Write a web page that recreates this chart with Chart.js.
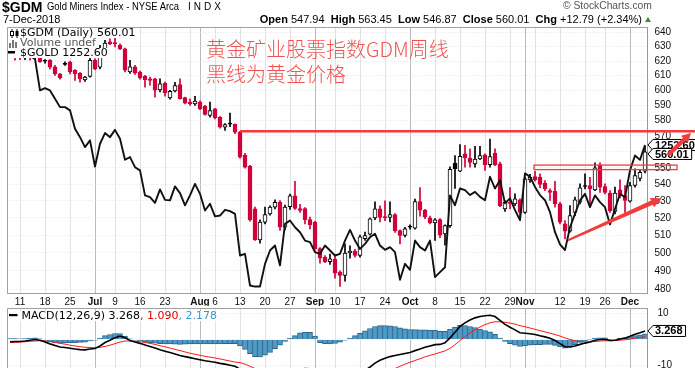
<!DOCTYPE html>
<html>
<head>
<meta charset="utf-8">
<script src="https://cdn.jsdelivr.net/npm/chart.js@4/dist/chart.umd.min.js"></script>
<style>
  html, body { margin: 0; padding: 0; background: #fff; }
  body { width: 695px; height: 368px; overflow: hidden; position: relative; font-family: 'Liberation Sans', Arial, sans-serif; color: #000; }
  canvas { position: absolute; left: 0; }
  #main { top: 0; }
  #macd { top: 306px; }
  .abs { position: absolute; white-space: nowrap; }
  .leg { position: absolute; left: 7.5px; height: 10.1px; line-height: 10.1px; font-size: 11px; font-family: 'DejaVu Sans', sans-serif; background: #fff; white-space: nowrap; padding-left: 12.5px; padding-right: 3px; }
  .cn { position: absolute; white-space: nowrap; font: 300 20px/20px 'Noto Sans CJK SC', sans-serif; color: #f25252; }
</style>
</head>
<body>
<canvas id="main" width="695" height="306"></canvas>
<canvas id="macd" width="695" height="100"></canvas>

<div class="abs" style="left:2px;top:0px;font:bold 14px/14px 'Liberation Sans',Arial;">$GDM</div>
<div class="abs" style="left:47px;top:0.9px;font:11.5px/11.5px 'Liberation Sans',Arial;transform:scaleX(0.82);transform-origin:0 0;">Gold Miners Index - NYSE Arca</div>
<div class="abs" style="left:188px;top:2px;font:10px/10px 'Liberation Sans',Arial;letter-spacing:3px;">INDX</div>
<div class="abs" style="left:3px;top:13.7px;font:11px/11px 'Liberation Sans',Arial;">7-Dec-2018</div>
<div class="abs" style="right:53px;top:13.7px;font:11px/11px 'Liberation Sans',Arial;"><b>Open</b> 547.94&nbsp; <b>High</b> 563.45&nbsp; <b>Low</b> 546.87&nbsp; <b>Close</b> 560.01&nbsp; <b>Chg</b> +12.79 (+2.34%)</div>
<div class="abs" style="left:645px;top:17px;width:0;height:0;border-left:3.5px solid transparent;border-right:3.5px solid transparent;border-bottom:5px solid #2f8f3a;"></div>
<div class="abs" style="left:563px;top:1px;font:10.3px/10px 'Liberation Sans',Arial;color:#555;">&copy; StockCharts.com</div>

<div class="leg" style="top:27.65px;">$GDM (Daily) 560.01
  <svg class="abs" style="left:2.5px;top:1px" width="9" height="9"><line x1="2" y1="0" x2="2" y2="9" stroke="#000"/><rect x="0.5" y="2.5" width="3" height="4" fill="#fff" stroke="#000"/><line x1="7" y1="0" x2="7" y2="9" stroke="#000"/><rect x="5.5" y="2" width="3" height="5" fill="#000"/></svg>
</div>
<div class="leg" style="top:37.75px;color:#555;">Volume undef
  <svg class="abs" style="left:1.5px;top:1px" width="9" height="9"><rect x="0" y="4" width="2" height="5" fill="#777"/><rect x="3" y="1" width="2" height="8" fill="#777"/><rect x="6" y="3" width="2" height="6" fill="#777"/></svg>
</div>
<div class="leg" style="top:47.85px;">$GOLD 1252.60
  <svg class="abs" style="left:0.8px;top:3.5px" width="8" height="3"><rect x="0" y="0" width="7" height="2.5" fill="#000"/></svg>
</div>

<div class="cn" style="left:206px;top:38.6px;">黄金矿业股票指数GDM周线</div>
<div class="cn" style="left:206px;top:63.8px;">黑线为黄金价格</div>

<div class="abs" style="left:7.5px;top:310.6px;height:10.1px;line-height:10.1px;font-size:11px;font-family:'DejaVu Sans',sans-serif;background:#fff;padding-left:14px;padding-right:3px;">MACD(12,26,9) 3.268<span style="color:#e00000">, 1.090</span><span style="color:#3a96c8">, 2.178</span>
  <svg class="abs" style="left:1px;top:3px" width="9" height="3"><rect x="0" y="0" width="8.5" height="2.2" fill="#000"/></svg>
</div>

<script>
// Trading days shown on the chart (7 Jun 2018 - 7 Dec 2018)
const dates = [
  '6/7','6/8','6/11','6/12','6/13','6/14','6/15','6/18','6/19','6/20','6/21','6/22','6/25','6/26','6/27','6/28','6/29',
  '7/2','7/3','7/5','7/6','7/9','7/10','7/11','7/12','7/13','7/16','7/17','7/18','7/19','7/20','7/23','7/24','7/25','7/26','7/27','7/30','7/31',
  '8/1','8/2','8/3','8/6','8/7','8/8','8/9','8/10','8/13','8/14','8/15','8/16','8/17','8/20','8/21','8/22','8/23','8/24','8/27','8/28','8/29','8/30','8/31',
  '9/4','9/5','9/6','9/7','9/10','9/11','9/12','9/13','9/14','9/17','9/18','9/19','9/20','9/21','9/24','9/25','9/26','9/27','9/28',
  '10/1','10/2','10/3','10/4','10/5','10/8','10/9','10/10','10/11','10/12','10/15','10/16','10/17','10/18','10/19','10/22','10/23','10/24','10/25','10/26','10/29','10/30','10/31',
  '11/1','11/2','11/5','11/6','11/7','11/8','11/9','11/12','11/13','11/14','11/15','11/16','11/19','11/20','11/21','11/23','11/26','11/27','11/28','11/29','11/30',
  '12/3','12/4','12/6','12/7'
];

// x-axis labels (empty string = grid line without label)
const tickLabels = {
  '6/11': '11', '6/18': '18', '6/25': '25', '7/2': 'Jul', '7/9': '9', '7/16': '16', '7/23': '23', '7/30': '',
  '8/1': 'Aug', '8/6': '6', '8/13': '13', '8/20': '20', '8/27': '27', '9/4': 'Sep', '9/10': '10', '9/17': '17',
  '9/24': '24', '10/1': 'Oct', '10/8': '8', '10/15': '15', '10/22': '22', '10/29': '29', '11/1': 'Nov', '11/5': '',
  '11/12': '12', '11/19': '19', '11/26': '26', '12/3': 'Dec'
};
const monthStarts = ['7/2', '8/1', '9/4', '10/1', '11/1', '12/3'];

// $GDM daily candles
const open = [
  627, 626, 625, 623, 626, 624, 623, 620.2, 620.5, 616,
  611, 618, 619.3, 613.6, 611.6, 607, 609.4, 620.5, 615.7, 627.4,
  633.4, 633, 631, 628.6, 612.4, 616, 612.4, 609.5, 607.7, 607.7,
  600.3, 604.7, 594.8, 599.5, 603.8, 595, 592.1, 590.9, 592.1, 589.2,
  583.3, 587.6, 582.2, 575.6, 577.9, 577.5, 572.4, 557.7, 550.9, 525.3,
  507.3, 517.5, 522.3, 526.3, 529.2, 514.6, 526.5, 533, 525.5, 525.5,
  519, 517.5, 502.4, 497.5, 495, 496.3, 489.3, 487.5, 499.9, 500.8,
  498.5, 508, 510.5, 519.9, 525.3, 520.7, 520.3, 521.9, 512.6, 509.8,
  515, 514, 529.5, 524.5, 520, 517, 519, 510.7, 515.5, 553,
  548, 558.7, 556.1, 552.4, 555.5, 558, 552, 559, 552.4, 525.3,
  529.3, 528.2, 530.6, 523.2, 542.6, 544.6, 544.2, 540.6, 536.1, 535.7,
  528.2, 516.5, 512.3, 523.2, 529.2, 538.9, 539.2, 536.6, 551.5, 538.6,
  534.6, 523.8, 536.6, 533.2, 529.8, 539.2, 543.5, 547.94
];
const high = [
  629, 628, 627, 627, 628, 626, 624, 621, 621, 617,
  611.5, 619.5, 620, 614, 612, 609.5, 624, 621.5, 631, 634.5,
  635.7, 636, 632, 629, 620.5, 617, 613, 610.1, 609, 608,
  607.8, 605.5, 600, 605.4, 607.7, 595.5, 594.3, 595.9, 593, 590,
  592.1, 588, 582.5, 578, 584.8, 577.8, 573, 559, 551.5, 526.3,
  518.8, 526.3, 527, 530.6, 530.2, 527.5, 534, 541.8, 528, 526,
  520.5, 518, 503, 498.5, 499.3, 498, 490, 505, 504, 502,
  510, 511.8, 520, 529.4, 527, 530, 529.4, 522.5, 513, 514.5,
  516, 531, 538, 525, 521, 519.5, 519.5, 516, 550.6, 557.6,
  564.6, 564, 561.8, 563.4, 563.4, 558.7, 568, 561.8, 553.6, 530.2,
  538, 534.2, 531.2, 544.2, 546, 547.9, 546.3, 542.2, 537.2, 541.8,
  529.2, 518.4, 527.2, 532.2, 540.2, 546.3, 544.2, 553.1, 553.1, 540.2,
  536.1, 538.2, 542.6, 539.2, 541.2, 549.4, 549, 563.45
];
const low = [
  623, 620.5, 621, 621, 620.5, 621, 619, 618.5, 614.5, 610,
  607.5, 617, 611, 606.7, 605.5, 606, 608.9, 614, 614.6, 627,
  631.5, 629.8, 628, 612.4, 611.5, 610.8, 607.5, 602, 603.5, 595.4,
  598.8, 596, 594, 598.8, 594, 590.8, 589.9, 589.9, 587, 583.5,
  582.2, 581, 575, 573.6, 576, 571.5, 556, 549.8, 518, 507,
  505.4, 516.5, 521.5, 525.3, 512.7, 513, 525, 525, 523.2, 516.5,
  513.6, 502, 494.2, 494.5, 493.6, 486, 481.5, 484.4, 497, 497.5,
  497.5, 507, 510, 519, 517.6, 518.4, 517.6, 511.5, 505, 509,
  513.5, 513.5, 521, 519.5, 516.5, 507, 508.5, 504.3, 514.5, 537.5,
  547.7, 550.4, 550.4, 550.4, 555, 548.4, 550.4, 551.4, 526.5, 523.8,
  525.3, 527.2, 518.4, 522.6, 541, 541.8, 537.8, 536.1, 530.2, 526.3,
  516.5, 507.9, 511.7, 521.3, 528.2, 537.2, 528.2, 536.1, 535.1, 534.2,
  523.2, 522.3, 531.8, 523.2, 529.2, 538.2, 542, 546.87
];
const close = [
  625, 623, 622.5, 625.5, 623, 622.5, 619.5, 619.8, 615.7, 611,
  608.4, 617.7, 612.4, 611.2, 607.7, 608.9, 620.5, 614.6, 625.1, 632.6,
  632.2, 632, 628.6, 613.6, 616, 611.6, 608.3, 607.1, 606.7, 600,
  604.3, 598.2, 599.2, 603.1, 594.3, 591.4, 590.9, 592.7, 587.6, 583.9,
  586.5, 581.7, 575.6, 577.4, 577.6, 572.4, 556.6, 550.4, 518.8, 507.3,
  517.5, 521.9, 526.3, 529.2, 514.6, 526.3, 533, 525.5, 524.3, 519,
  516.1, 502.4, 497, 495, 496.6, 488.7, 487.5, 499.9, 501, 498.6,
  509, 509.8, 519.4, 525.3, 520.3, 519.9, 521.9, 512.6, 509.8, 513.6,
  514.6, 529.5, 524.5, 520.5, 517, 518.8, 510, 515.5, 549, 549.5,
  557.1, 556.1, 553.4, 555.5, 557.6, 552, 557, 552, 527.2, 529.2,
  528.5, 531.2, 523.2, 543.2, 544.2, 542.6, 539.8, 537.2, 535.1, 528.2,
  517.5, 512.3, 521.3, 530.6, 537.8, 538.6, 537.2, 550, 538.2, 535.1,
  524.2, 534.6, 533.2, 530.2, 539.2, 545.2, 547.22, 560.01
];

// $GOLD overlay (close)
const gold = [
  1303.2, 1302.7, 1302.7, 1302.1, 1302.7, 1301.1, 1283.3, 1284.6, 1283.3, 1278.6,
  1273.9, 1273.9, 1272.1, 1261.7, 1257.0, 1251.4, 1255.2, 1240.5, 1253.3, 1259.3,
  1257.0, 1261.1, 1256.1, 1244.3, 1245.8, 1240.1, 1238.3, 1224.2, 1223.2, 1220.0,
  1227.6, 1221.7, 1221.4, 1229.3, 1225.5, 1218.6, 1224.2, 1230.7, 1225.1, 1215.7,
  1219.5, 1212.4, 1212.9, 1216.1, 1215.4, 1213.8, 1190.4, 1191.3, 1173.5, 1172.9,
  1172.9, 1185.7, 1193.2, 1196.0, 1184.8, 1208.2, 1210.1, 1206.3, 1203.5, 1198.8,
  1197.9, 1192.3, 1191.3, 1196.0, 1193.2, 1190.4, 1191.3, 1198.8, 1204.8, 1198.8,
  1194.1, 1196.9, 1200.7, 1202.6, 1196.0, 1193.6, 1195.1, 1192.3, 1176.7, 1185.7,
  1182.3, 1198.8, 1195.1, 1193.2, 1198.8, 1178.2, 1181.0, 1183.8, 1224.2, 1218.7,
  1228.1, 1227.2, 1224.4, 1226.2, 1223.4, 1221.5, 1234.7, 1228.1, 1232.8, 1219.7,
  1222.5, 1215.9, 1210.3, 1236.6, 1234.7, 1229.0, 1224.4, 1221.5, 1214.8, 1203.5,
  1196.7, 1193.4, 1206.3, 1213.8, 1221.4, 1225.1, 1217.6, 1224.2, 1220.4, 1217.6,
  1207.9, 1216.6, 1225.1, 1223.2, 1238.3, 1246.7, 1244.2, 1252.6
];

// MACD(12,26,9)
const macd = [
  -0.9, -0.8, -0.8, -0.6, -0.3, 0.0, -0.3, -1.0, -1.7, -2.3,
  -2.9, -3.1, -3.4, -3.7, -3.9, -4.0, -3.7, -3.5, -2.5, -1.2,
  -0.3, 0.7, 1.3, 0.7, -0.4, -1.0, -1.5, -2.1, -2.7, -3.3,
  -4.0, -4.5, -5.0, -5.6, -6.2, -6.6, -7.0, -7.4, -7.8, -8.2,
  -8.5, -8.8, -9.2, -9.5, -9.9, -10.3, -11.4, -13.3, -15.8, -17.8,
  -18.8, -18.9, -18.6, -17.5, -16.6, -15.4, -14.1, -12.9, -11.7, -11.2,
  -11.3, -12.7, -15.5, -16.4, -17.0, -17.2, -17.0, -16.5, -15.8, -14.6,
  -13.4, -12.0, -10.6, -9.1, -8.0, -7.2, -6.6, -6.2, -5.8, -5.4,
  -5.0, -4.3, -3.7, -3.0, -2.5, -2.0, -1.9, -1.3, 0.6, 2.8,
  5.0, 6.4, 7.5, 8.3, 8.8, 9.1, 9.3, 8.8, 7.3, 5.8,
  4.7, 3.7, 2.6, 2.4, 2.2, 1.9, 1.4, 1.0, 0.5, -0.4,
  -1.6, -2.8, -2.9, -2.5, -1.9, -1.4, -1.0, -0.3, 0.0, 0.1,
  -0.4, -0.3, 0.2, 0.5, 1.2, 2.0, 2.6, 3.268
];
const signal = [
  -1.2, -1.1, -1.0, -0.9, -0.7, -0.6, -0.5, -0.6, -0.8, -1.1,
  -1.5, -1.8, -2.2, -2.5, -2.8, -3.0, -3.1, -3.2, -3.0, -2.7,
  -2.2, -1.6, -1.0, -0.6, -0.6, -0.7, -0.9, -1.2, -1.5, -1.9,
  -2.4, -2.8, -3.3, -3.8, -4.3, -4.8, -5.3, -5.7, -6.1, -6.5,
  -6.8, -7.1, -7.5, -7.9, -8.3, -8.7, -8.9, -9.5, -10.3, -11.2,
  -12.1, -12.9, -13.6, -14.0, -14.4, -14.6, -14.5, -14.4, -14.2, -14.0,
  -14.0, -14.0, -14.3, -14.8, -15.3, -15.7, -16.0, -16.2, -16.2, -16.1,
  -15.8, -15.3, -14.8, -14.1, -13.3, -12.5, -11.8, -11.2, -10.3, -9.5,
  -8.8, -8.1, -7.4, -6.7, -6.1, -5.6, -5.0, -4.4, -3.4, -2.0,
  -0.4, 1.1, 2.5, 3.7, 4.8, 5.7, 6.4, 6.8, 6.8, 6.6,
  6.3, 5.9, 5.3, 4.9, 4.4, 3.9, 3.4, 2.9, 2.4, 1.9,
  1.3, 0.6, 0.0, -0.5, -0.8, -0.9, -0.9, -0.8, -0.6, -0.5,
  -0.5, -0.4, -0.3, -0.1, 0.1, 0.5, 0.8, 1.09
];
const histogram = [
  0.3, 0.3, 0.2, 0.3, 0.4, 0.6, 0.2, -0.4, -0.9, -1.2,
  -1.4, -1.3, -1.2, -1.2, -1.1, -1.0, -0.6, -0.3, 0.5, 1.5,
  1.9, 2.3, 2.3, 1.3, 0.2, -0.3, -0.6, -0.9, -1.2, -1.4,
  -1.6, -1.7, -1.7, -1.8, -1.9, -1.8, -1.7, -1.7, -1.7, -1.7,
  -1.7, -1.7, -1.7, -1.6, -1.6, -1.6, -2.5, -3.8, -5.5, -6.6,
  -6.7, -6.0, -5.0, -3.5, -2.2, -0.8, 0.4, 1.5, 2.5, 2.8,
  2.7, 1.3, -1.2, -1.6, -1.7, -1.5, -1.0, -0.3, 0.4, 1.5,
  2.4, 3.3, 4.2, 5.0, 5.3, 5.3, 5.2, 5.0, 4.5, 4.1,
  3.8, 3.8, 3.7, 3.7, 3.6, 3.6, 3.1, 3.1, 4.0, 4.8,
  5.4, 5.3, 5.0, 4.6, 4.0, 3.4, 2.9, 2.0, 0.5, -0.8,
  -1.6, -2.2, -2.7, -2.5, -2.2, -2.0, -2.0, -1.9, -1.9, -2.3,
  -2.9, -3.4, -2.9, -2.0, -1.1, -0.5, -0.1, 0.5, 0.6, 0.6,
  0.1, 0.1, 0.5, 0.6, 1.1, 1.5, 1.8, 2.178
];

const priceTicks = [480, 490, 500, 510, 520, 530, 540, 550, 560, 570, 580, 590, 600, 610, 620, 630, 640];
const macdTicks = [10, 0, -10, -20];

// hand-drawn annotations, in (day index, price) terms
const resistance = { from: 46, price: 573.1 };
const box = { from: 104.8, to: 133.4, lo: 548.9, hi: 551.7 };
const trendArrow = { x1: 111.6, p1: 507.1, x2: 130.4, p2: 531.6 };
const breakArrow = { x1: 131.6, p1: 557.9, x2: 136.2, p2: 571.9 };

const RED = '#d2003a';
const ANNO = '#f23c3c';
const FONT = "'Liberation Sans', Arial, sans-serif";

// candle colours: hollow when close > open, red when close < previous close
const edgeColors = close.map((c, i) => c < (i ? close[i - 1] : open[i]) ? RED : '#000');
const fillColors = close.map((c, i) => c >= open[i] ? '#fff' : edgeColors[i]);
const bodies = open.map((o, i) => [Math.min(o, close[i]), Math.max(o, close[i])]);
const wicks = low.map((l, i) => [l, high[i]]);

const gridColor = ctx => {
  const d = dates[ctx.index];
  if (d === undefined || !(d in tickLabels)) return 'rgba(0,0,0,0)';
  return monthStarts.includes(d) ? '#bababa' : '#e2e2e2';
};

const xAxis = showLabels => ({
  type: 'category',
  offset: true,
  grid: { offset: false, drawTicks: false, color: gridColor },
  border: { display: showLabels, color: '#a0a0a0' },
  ticks: {
    display: showLabels,
    autoSkip: false,
    maxRotation: 0,
    padding: 3,
    color: '#111',
    font: ctx => ({ family: FONT, size: 10, weight: monthStarts.includes(dates[ctx.index]) ? 'bold' : 'normal' }),
    callback: (v, i) => tickLabels[dates[i]] || ''
  },
  afterFit: s => { s.height = showLabels ? 12.5 : 0; s.paddingLeft = 0; s.paddingRight = 0; }
});

const rightAxisFit = s => { s.width = 47.5; s.paddingTop = 0; s.paddingBottom = 0; };

function drawFrame(chart) {
  const { ctx, chartArea: a } = chart;
  const top = Math.round(a.top) + 0.5;
  ctx.save();
  ctx.strokeStyle = '#a0a0a0';
  ctx.lineWidth = 1;
  ctx.beginPath();
  ctx.moveTo(a.left, a.bottom);
  ctx.lineTo(a.left, top);
  ctx.lineTo(a.right, top);
  ctx.stroke();
  ctx.restore();
}

function valueTag(ctx, x, yc, text) {
  ctx.font = 'bold 11px ' + FONT;
  const w = ctx.measureText(text).width + 5;
  ctx.beginPath();
  ctx.moveTo(x, yc);
  ctx.lineTo(x + 5, yc - 5.5);
  ctx.lineTo(x + 5 + w, yc - 5.5);
  ctx.lineTo(x + 5 + w, yc + 5.5);
  ctx.lineTo(x + 5, yc + 5.5);
  ctx.closePath();
  ctx.fillStyle = '#fff';
  ctx.fill();
  ctx.strokeStyle = '#000';
  ctx.lineWidth = 1;
  ctx.stroke();
  ctx.fillStyle = '#000';
  ctx.textBaseline = 'middle';
  ctx.textAlign = 'left';
  ctx.fillText(text, x + 7, yc + 0.5);
}

function taperArrow(ctx, x1, y1, x2, y2, w1, w2, hl, hw) {
  const L = Math.hypot(x2 - x1, y2 - y1);
  const ux = (x2 - x1) / L, uy = (y2 - y1) / L, nx = -uy, ny = ux;
  const bx = x2 - ux * hl, by = y2 - uy * hl;
  ctx.beginPath();
  ctx.moveTo(x1 + nx * w1 / 2, y1 + ny * w1 / 2);
  ctx.lineTo(bx + nx * w2 / 2, by + ny * w2 / 2);
  ctx.lineTo(bx + nx * hw / 2, by + ny * hw / 2);
  ctx.lineTo(x2, y2);
  ctx.lineTo(bx - nx * hw / 2, by - ny * hw / 2);
  ctx.lineTo(bx - nx * w2 / 2, by - ny * w2 / 2);
  ctx.lineTo(x1 - nx * w1 / 2, y1 - ny * w1 / 2);
  ctx.closePath();
  ctx.fill();
}

const mainOverlay = {
  id: 'mainOverlay',
  beforeDatasetsDraw: drawFrame,
  afterDraw(chart) {
    const { ctx, chartArea: a, scales: { x, y, yGold } } = chart;
    const last = close.length - 1;
    ctx.save();
    // last value tags
    const goldY = yGold.getPixelForValue(gold[last]);
    const priceY = Math.max(y.getPixelForValue(close[last]), goldY + 9);
    valueTag(ctx, a.right + 0.5, goldY, gold[last].toFixed(2));
    valueTag(ctx, a.right + 0.5, priceY, close[last].toFixed(2));

    // annotations
    ctx.strokeStyle = ANNO;
    ctx.fillStyle = ANNO;
    ctx.lineWidth = 2.5;
    const ry = y.getPixelForValue(resistance.price);
    ctx.beginPath();
    ctx.moveTo(x.getPixelForValue(resistance.from), ry);
    ctx.lineTo(chart.width, ry);
    ctx.stroke();

    ctx.lineWidth = 1.3;
    const bx1 = x.getPixelForValue(box.from), bx2 = x.getPixelForValue(box.to);
    const by1 = y.getPixelForValue(box.hi), by2 = y.getPixelForValue(box.lo);
    ctx.strokeRect(bx1, by1, bx2 - bx1, by2 - by1);

    taperArrow(ctx, x.getPixelForValue(trendArrow.x1), y.getPixelForValue(trendArrow.p1),
      x.getPixelForValue(trendArrow.x2), y.getPixelForValue(trendArrow.p2), 2, 4.5, 11, 10);
    taperArrow(ctx, x.getPixelForValue(breakArrow.x1), y.getPixelForValue(breakArrow.p1),
      x.getPixelForValue(breakArrow.x2), y.getPixelForValue(breakArrow.p2), 4, 4.5, 9, 10);
    ctx.restore();
  }
};

new Chart(document.getElementById('main'), {
  type: 'bar',
  data: {
    labels: dates,
    datasets: [
      { type: 'line', label: '$GOLD', data: gold, yAxisID: 'yGold', borderColor: '#111', borderWidth: 1.9,
        pointRadius: 0, pointHoverRadius: 0, tension: 0, borderJoinStyle: 'round', order: 1 },
      { label: 'body', data: bodies, yAxisID: 'y', backgroundColor: fillColors, borderColor: edgeColors,
        borderWidth: 1, borderSkipped: false, barThickness: 4, minBarLength: 1, grouped: false, order: 2 },
      { label: 'wick', data: wicks, yAxisID: 'y', backgroundColor: edgeColors, barThickness: 1,
        grouped: false, order: 3 }
    ]
  },
  options: {
    responsive: false,
    animation: false,
    devicePixelRatio: 1,
    layout: { autoPadding: false, padding: { left: 7.5, top: 27, right: 0, bottom: 0 } },
    plugins: { legend: { display: false }, tooltip: { enabled: false } },
    scales: {
      x: xAxis(true),
      y: {
        type: 'logarithmic',
        position: 'right',
        min: 477.7,
        max: 644.1,
        afterBuildTicks: s => { s.ticks = priceTicks.map(v => ({ value: v })); },
        grid: { drawTicks: false, color: '#e2e2e2' },
        border: { color: '#9a9a9a', dash: [1, 2] },
        ticks: { padding: 7, color: '#111', font: { family: FONT, size: 10 }, callback: v => String(v) },
        afterFit: rightAxisFit
      },
      yGold: { type: 'linear', display: false, min: 1169, max: 1319 }
    }
  },
  plugins: [mainOverlay]
});

const macdOverlay = {
  id: 'macdOverlay',
  beforeDatasetsDraw: drawFrame,
  afterDraw(chart) {
    const { ctx, chartArea: a, scales: { y } } = chart;
    ctx.save();
    valueTag(ctx, a.right + 0.5, y.getPixelForValue(macd[macd.length - 1]), macd[macd.length - 1].toFixed(3));
    ctx.restore();
  }
};

new Chart(document.getElementById('macd'), {
  type: 'bar',
  data: {
    labels: dates,
    datasets: [
      { type: 'line', label: 'MACD', data: macd, borderColor: '#000', borderWidth: 1.6, pointRadius: 0, pointHoverRadius: 0, tension: 0, order: 1 },
      { type: 'line', label: 'Signal', data: signal, borderColor: '#ff1a1a', borderWidth: 1, pointRadius: 0, pointHoverRadius: 0, tension: 0, order: 2 },
      { label: 'Histogram', data: histogram, backgroundColor: '#4b9cc8', borderColor: '#2d6288', borderWidth: 1,
        barPercentage: 1, categoryPercentage: 1, order: 3 }
    ]
  },
  options: {
    responsive: false,
    animation: false,
    devicePixelRatio: 1,
    layout: { autoPadding: false, padding: { left: 7.5, top: 2, right: 0, bottom: 0 } },
    plugins: { legend: { display: false }, tooltip: { enabled: false } },
    scales: {
      x: xAxis(false),
      y: {
        position: 'right',
        min: -25.6,
        max: 12.1,
        afterBuildTicks: s => { s.ticks = macdTicks.map(v => ({ value: v })); },
        grid: { drawTicks: false, color: '#e2e2e2' },
        border: { color: '#9a9a9a', dash: [1, 2] },
        ticks: { padding: 10, color: '#111', font: { family: FONT, size: 10 },
          callback: v => (v === 10 || v === -10) ? String(v) : '' },
        afterFit: rightAxisFit
      }
    }
  },
  plugins: [macdOverlay]
});
</script>
</body>
</html>
